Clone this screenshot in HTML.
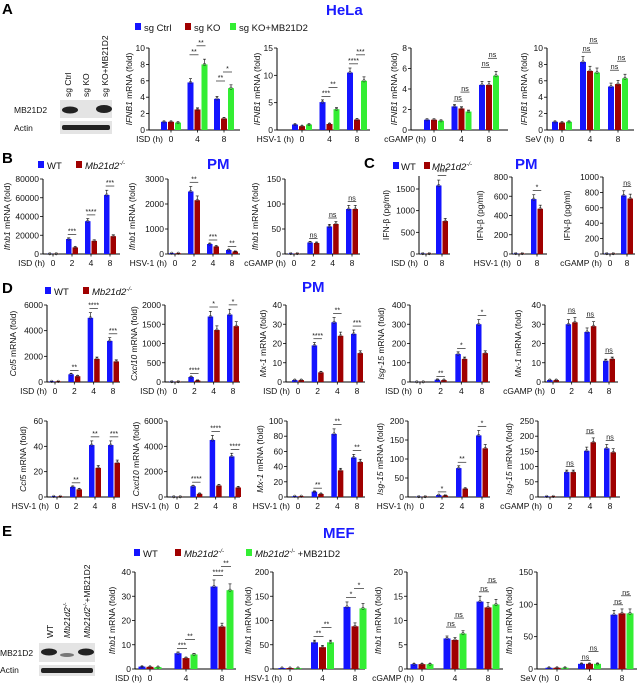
<!DOCTYPE html>
<html><head><meta charset="utf-8">
<style>
html,body{margin:0;padding:0;background:#fff;}
svg{display:block;font-family:"Liberation Sans",Arial,sans-serif;}
.t{font-size:8.5px;fill:#111;}
.yl{font-size:8.5px;fill:#111;}
.sig{font-size:7px;fill:#111;}
.pl{font-size:15px;font-weight:bold;fill:#000;}
.ti{font-size:15px;font-weight:bold;fill:#1a1aff;}
.lg{font-size:9.5px;fill:#111;}
</style></head><body>
<svg id="fig" width="640" height="685" viewBox="0 0 640 685">
<g>
<text class="pl" x="2" y="14">A</text>
<text class="pl" x="2" y="163">B</text>
<text class="pl" x="364" y="168">C</text>
<text class="pl" x="2" y="293">D</text>
<text class="pl" x="2" y="536">E</text>
<text class="ti" x="326" y="15">HeLa</text>
<text class="ti" x="207" y="169">PM</text>
<text class="ti" x="515" y="169">PM</text>
<text class="ti" x="302" y="292">PM</text>
<text class="ti" x="323" y="538">MEF</text>
</g>
<g>
<rect x="135" y="23" width="6" height="7" fill="#1414ff"/><text class="lg" x="144" y="31">sg Ctrl</text>
<rect x="185" y="23" width="6" height="7" fill="#a00000"/><text class="lg" x="194" y="31">sg KO</text>
<rect x="230" y="23" width="6" height="7" fill="#33ee33"/><text class="lg" x="239" y="31">sg KO+MB21D2</text>
</g>
<g>
<rect x="38" y="161" width="6" height="7" fill="#1414ff"/><text class="lg" x="47" y="169">WT</text>
<rect x="76" y="161" width="6" height="7" fill="#a00000"/><text class="lg" x="85" y="169" font-style="italic">Mb21d2<tspan dy="-4" font-size="6">-/-</tspan></text>
</g>
<g>
<rect x="393" y="162" width="6" height="7" fill="#1414ff"/><text class="lg" x="401" y="170">WT</text>
<rect x="424" y="162" width="6" height="7" fill="#a00000"/><text class="lg" x="432" y="170" font-style="italic">Mb21d2<tspan dy="-4" font-size="6">-/-</tspan></text>
</g>
<g>
<rect x="45" y="287" width="6" height="7" fill="#1414ff"/><text class="lg" x="54" y="295">WT</text>
<rect x="83" y="287" width="6" height="7" fill="#a00000"/><text class="lg" x="92" y="295" font-style="italic">Mb21d2<tspan dy="-4" font-size="6">-/-</tspan></text>
</g>
<g>
<rect x="134" y="549" width="6" height="7" fill="#1414ff"/><text class="lg" x="143" y="557">WT</text>
<rect x="175" y="549" width="6" height="7" fill="#a00000"/><text class="lg" x="184" y="557" font-style="italic">Mb21d2<tspan dy="-4" font-size="6">-/-</tspan></text>
<rect x="246" y="549" width="6" height="7" fill="#33ee33"/><text class="lg" x="255" y="557"><tspan font-style="italic">Mb21d2</tspan><tspan dy="-4" font-size="6">-/-</tspan><tspan dy="4"> +MB21D2</tspan></text>
</g>
<g>
<text class="t" transform="translate(71,97) rotate(-90)">sg Ctrl</text>
<text class="t" transform="translate(89,97) rotate(-90)">sg KO</text>
<text class="t" transform="translate(108,97) rotate(-90)">sg KO+MB21D2</text>
<text class="t" x="14" y="113">MB21D2</text>
<text class="t" x="14" y="131">Actin</text>
<rect x="60" y="100" width="52" height="18" fill="#e4e4e4"/>
<ellipse cx="70" cy="110" rx="8" ry="3.5" fill="#222"/>
<ellipse cx="104" cy="109" rx="8" ry="4" fill="#222"/>
<rect x="60" y="121" width="52" height="13" fill="#e4e4e4"/>
<rect x="62" y="125" width="48" height="5" rx="2" fill="#222"/>
</g>
<g>
<text class="t" transform="translate(53,638) rotate(-90)">WT</text>
<text class="t" transform="translate(70,638) rotate(-90)" font-style="italic">Mb21d2<tspan font-size="5" dy="-3">-/-</tspan></text>
<text class="t" transform="translate(90,638) rotate(-90)"><tspan font-style="italic">Mb21d2</tspan><tspan font-size="5" dy="-3">-/-</tspan><tspan dy="3">+MB21D2</tspan></text>
<text class="t" x="0" y="656">MB21D2</text>
<text class="t" x="0" y="673">Actin</text>
<rect x="39" y="643" width="56" height="19" fill="#e4e4e4"/>
<ellipse cx="49" cy="652" rx="8" ry="3.5" fill="#222"/>
<ellipse cx="67" cy="655" rx="7" ry="2" fill="#777"/>
<ellipse cx="86" cy="652" rx="8" ry="3.5" fill="#222"/>
<rect x="39" y="665" width="56" height="11" fill="#e4e4e4"/>
<rect x="41" y="668" width="52" height="5" rx="2" fill="#222"/>
</g>
<g id="charts"></g>
</svg>
<script>
// ---- data ----
const catsA = ["0","4","8"];
const catsB = ["0","2","4","8"];
const catsC = ["0","8"];
const a1Ctrl=[1,5.8,3.8], a1KO=[1,2.5,1.4], a1Res=[0.9,8,5.1];
const a2Ctrl=[1,5.1,10.5], a2KO=[0.7,1.1,1.9], a2Res=[1,3.8,9];
const a3Ctrl=[1,2.3,4.4], a3KO=[1,2.1,4.4], a3Res=[0.9,1.8,5.3];
const a4Ctrl=[1,8.3,5.3], a4KO=[0.9,7.2,5.6], a4Res=[1,7,6.3];
const b1WT=[300,16000,35000,63000], b1KO=[300,7000,14000,19000];
const b2WT=[30,2500,400,160], b2KO=[30,2150,300,100];
const b3WT=[1,23,55,90], b3KO=[1,22,60,90];
const c1WT=[10,1580], c1KO=[10,760];
const c2WT=[5,570], c2KO=[5,470];
const c3WT=[5,760], c3KO=[5,720];
const d1WT=[50,600,5000,3200], d1KO=[50,450,1800,1600];
const d2WT=[10,130,1700,1750], d2KO=[10,40,1350,1450];
const d3WT=[1,19,31,25], d3KO=[1,5,24,15];
const d4WT=[1,12,145,300], d4KO=[1,10,120,150];
const d5WT=[1,30,26,11], d5KO=[1,31,29,12];
const d6WT=[0.5,8,41,41], d6KO=[0.5,6,23,27];
const d7WT=[20,850,4500,3200], d7KO=[20,250,900,750];
const d8WT=[1,7,83,52], d8KO=[1,4,35,46];
const d9WT=[1,5,76,162], d9KO=[1,4,22,128];
const d10WT=[2,82,152,160], d10KO=[2,82,180,147];
const e1WT=[1,6.5,34], e1KO=[0.9,4.5,17.5], e1Res=[0.8,6,32.5];
const e2WT=[2,55,128], e2KO=[2,45,88], e2Res=[2,55,125];
const e3WT=[1,6.3,13.9], e3KO=[1,6,12.7], e3Res=[1,7.3,13.3];
const e4WT=[2,8,84], e4KO=[2,8,86], e4Res=[2,8,86];
// significance labels
const sigA1=["","**","**"], sigA1b=["","**","*"];
const sigA2=["","***","****"], sigA2b=["","**","***"];
const sigA3=["","ns","ns"], sigA3b=["","ns","ns"];
const sigA4=["","ns","ns"], sigA4b=["","ns","ns"];
const sigB1=["","***","****","***"], sigB2=["","**","***","**"], sigB3=["","ns","ns","ns"];
const sigC1=["","****"], sigC2=["","*"], sigC3=["","ns"];
const sigD1=["","**","****","***"], sigD2=["","****","*","*"], sigD3=["","****","**","***"], sigD4=["","**","*","*"], sigD5=["","ns","ns","ns"];
const sigD6=["","**","**","***"], sigD7=["","****","****","****"], sigD8=["","**","**","**"], sigD9=["","*","**","*"], sigD10=["","ns","ns","ns"];
const sigE1=["","***","****"], sigE1b=["","**","**"];
const sigE2=["","**","*"], sigE2b=["","**","*"];
const sigE3=["","ns","ns"], sigE3b=["","ns","ns"];
const sigE4=["","ns","ns"], sigE4b=["","ns","ns"];

const COL=["#1414ff","#a00000","#33ee33"];
const NS="http://www.w3.org/2000/svg";
const root=document.getElementById("charts");
function mk(tag,attrs,parent){const e=document.createElementNS(NS,tag);for(const k in attrs)e.setAttribute(k,attrs[k]);(parent||root).appendChild(e);return e;}

function panel(c){
  const g=mk("g",{});
  
  
  const max=c.max, yb=c.yb, yt=c.yt;
  const ys=v=>yb-v/max*(yb-yt);
  const axTop=c.axisMax?ys(c.axisMax):yt;
  mk("line",{x1:c.x0,y1:axTop,x2:c.x0,y2:yb,stroke:"#000","stroke-width":1},g);
  mk("line",{x1:c.x0,y1:yb,x2:c.x1,y2:yb,stroke:"#000","stroke-width":1},g);
  for(let v=0;v<=max+1e-9;v+=c.step){
    const y=ys(v);
    mk("line",{x1:c.x0-3,y1:y,x2:c.x0,y2:y,stroke:"#000","stroke-width":0.8},g);
    const t=mk("text",{x:c.x0-4,y:y+3,"text-anchor":"end",class:"t"},g);t.textContent=String(v);
  }
  const n=c.cats.length, ns=c.series.length, bw=c.bw||6.5;
  const sp=(c.cN-c.c0)/(n-1);
  const ax=mk("g",{},g);
  
  
  const st=mk("text",{x:c.c0-8,y:c.yb+12,"text-anchor":"end",class:"t"},ax);st.textContent=c.stim+" (h)";
  c.cats.forEach((cat,i)=>{
    const cx=c.c0+i*sp;
    const t=mk("text",{x:cx,y:c.yb+12,"text-anchor":"middle",class:"t"},ax);t.textContent=cat;
    mk("line",{x1:cx,y1:yb,x2:cx,y2:yb+2.5,stroke:"#000","stroke-width":0.8},ax);
    let top=0;
    c.series.forEach((s,j)=>{
      const bx=cx-ns*bw/2+j*bw;
      const v=s[i], y=ys(v);
      const r=mk("rect",{x:bx+0.5,y:y,width:bw-1,height:Math.max(0,yb-y),fill:COL[j]},g);
      
      
      const e=ys(v*1.08);
      mk("line",{x1:bx+bw/2,y1:e,x2:bx+bw/2,y2:y,stroke:"#000","stroke-width":0.6},g);
      mk("line",{x1:bx+bw/2-1.5,y1:e,x2:bx+bw/2+1.5,y2:e,stroke:"#000","stroke-width":0.6},g);
      mk("circle",{cx:bx+bw/2,cy:y,r:1.3,fill:"none",stroke:"#222","stroke-width":0.5},g);
      top=Math.max(top,v*1.1);
    });
    const ly=ys(top)-3;
    if(c.sig && c.sig[i]){
      const xa=cx-ns*bw/2+bw/2, xb=xa+bw;
      mk("line",{x1:xa-1,y1:ly,x2:xb+1,y2:ly,stroke:"#000","stroke-width":0.6},g);
      const t=mk("text",{x:(xa+xb)/2,y:ly-1,"text-anchor":"middle",class:"sig"},g);t.textContent=c.sig[i];
    }
    if(c.sig2 && c.sig2[i]){
      const xa=cx-ns*bw/2+bw*1.5, xb=xa+bw, y2=ly-9;
      mk("line",{x1:xa-1,y1:y2,x2:xb+1,y2:y2,stroke:"#000","stroke-width":0.6},g);
      const t=mk("text",{x:(xa+xb)/2,y:y2-1,"text-anchor":"middle",class:"sig"},g);t.textContent=c.sig2[i];
    }
  });
  const yc=(axTop+yb)/2, lx=c.x0-(c.ylOff||27);
  const yl=mk("text",{transform:`translate(${lx},${yc}) rotate(-90)`,"text-anchor":"middle",class:"yl"},g);
  
  
  const it=mk("tspan",{"font-style":"italic"},yl);it.textContent=c.ylab;
  const rest=mk("tspan",{},yl);rest.textContent=c.yrest||" mRNA (fold)";
}

const A={yb:130,yt:48,bw:7};
panel({name:"chart-a-isd",x0:149,x1:240,c0:171,cN:224,...A,max:10,step:2,cats:catsA,series:[a1Ctrl,a1KO,a1Res],stim:"ISD",ylab:"IFNB1",yrest:"  mRNA (fold)",sig:sigA1,sig2:sigA1b,ylOff:17});
panel({name:"chart-a-hsv",x0:277,x1:370,c0:302,cN:357,...A,max:15,step:5,cats:catsA,series:[a2Ctrl,a2KO,a2Res],stim:"HSV-1",ylab:"IFNB1",yrest:"  mRNA (fold)",sig:sigA2,sig2:sigA2b,ylOff:17});
panel({name:"chart-a-cgamp",x0:411,x1:508,c0:434,cN:489,...A,max:8,step:2,cats:catsA,series:[a3Ctrl,a3KO,a3Res],stim:"cGAMP",ylab:"IFNB1",yrest:"  mRNA (fold)",sig:sigA3,sig2:sigA3b,ylOff:14});
panel({name:"chart-a-sev",x0:547,x1:634,c0:562,cN:618,...A,max:10,step:2,cats:catsA,series:[a4Ctrl,a4KO,a4Res],stim:"SeV",ylab:"IFNB1",yrest:"  mRNA (fold)",sig:sigA4,sig2:sigA4b,ylOff:20});

const B={yb:254,yt:179};
panel({name:"chart-b-isd",x0:43,x1:120,c0:53,cN:110,...B,max:80000,step:20000,cats:catsB,series:[b1WT,b1KO],stim:"ISD",ylab:"Ifnb1",sig:sigB1,ylOff:33});
panel({name:"chart-b-hsv",x0:168,x1:240,c0:175,cN:232,...B,max:3000,step:1000,cats:catsB,series:[b2WT,b2KO],stim:"HSV-1",ylab:"Ifnb1",sig:sigB2,ylOff:33});
panel({name:"chart-b-cgamp",x0:285,x1:360,c0:294,cN:352,...B,max:150,step:50,cats:catsB,series:[b3WT,b3KO],stim:"cGAMP",ylab:"Ifnb1",sig:sigB3,ylOff:27});
panel({name:"chart-c-isd",x0:419,x1:450,c0:426,cN:442,yb:254,yt:189,max:1500,step:500,axisMax:1800,cats:catsC,series:[c1WT,c1KO],stim:"ISD",ylab:"",yrest:"IFN-β (pg/ml)",sig:sigC1,ylOff:30});
panel({name:"chart-c-hsv",x0:512,x1:547,c0:519,cN:537,...B,yt:177,max:800,step:200,cats:catsC,series:[c2WT,c2KO],stim:"HSV-1",ylab:"",yrest:"IFN-β (pg/ml)",sig:sigC2,ylOff:29});
panel({name:"chart-c-cgamp",x0:603,x1:635,c0:610,cN:627,...B,yt:177,max:1000,step:200,cats:catsC,series:[c3WT,c3KO],stim:"cGAMP",ylab:"",yrest:"IFN-β (pg/ml)",sig:sigC3,ylOff:33});

const D1={yb:382,yt:305};
panel({name:"chart-d-ccl5-isd",x0:47,x1:120,c0:55,cN:113,...D1,max:6000,step:2000,cats:catsB,series:[d1WT,d1KO],stim:"ISD",ylab:"Ccl5",sig:sigD1,ylOff:31});
panel({name:"chart-d-cxcl10-isd",x0:165,x1:240,c0:175,cN:233,...D1,max:2000,step:500,cats:catsB,series:[d2WT,d2KO],stim:"ISD",ylab:"Cxcl10",sig:sigD2,ylOff:28});
panel({name:"chart-d-mx1-isd",x0:286,x1:365,c0:298,cN:357,...D1,max:40,step:10,cats:catsB,series:[d3WT,d3KO],stim:"ISD",ylab:"Mx-1",sig:sigD3,ylOff:20});
panel({name:"chart-d-isg15-isd",x0:410,x1:490,c0:420,cN:482,...D1,max:400,step:100,cats:catsB,series:[d4WT,d4KO],stim:"ISD",ylab:"Isg-15",sig:sigD4,ylOff:26});
panel({name:"chart-d-mx1-cgamp",x0:545,x1:618,c0:553,cN:609,...D1,max:40,step:10,cats:catsB,series:[d5WT,d5KO],stim:"cGAMP",ylab:"Mx-1",sig:sigD5,ylOff:24});

const D2={yb:497,yt:421};
panel({name:"chart-d-ccl5-hsv",x0:47,x1:120,c0:57,cN:114,...D2,max:60,step:20,cats:catsB,series:[d6WT,d6KO],stim:"HSV-1",ylab:"Ccl5",sig:sigD6,ylOff:21});
panel({name:"chart-d-cxcl10-hsv",x0:167,x1:240,c0:177,cN:235,...D2,max:6000,step:2000,cats:catsB,series:[d7WT,d7KO],stim:"HSV-1",ylab:"Cxcl10",sig:sigD7,ylOff:28});
panel({name:"chart-d-mx1-hsv",x0:287,x1:365,c0:298,cN:357,...D2,max:100,step:20,cats:catsB,series:[d8WT,d8KO],stim:"HSV-1",ylab:"Mx-1",sig:sigD8,ylOff:24});
panel({name:"chart-d-isg15-hsv",x0:408,x1:490,c0:422,cN:482,...D2,max:200,step:50,cats:catsB,series:[d9WT,d9KO],stim:"HSV-1",ylab:"Isg-15",sig:sigD9,ylOff:25});
panel({name:"chart-d-isg15-cgamp",x0:538,x1:620,c0:550,cN:610,...D2,max:250,step:50,cats:catsB,series:[d10WT,d10KO],stim:"cGAMP",ylab:"Isg-15",sig:sigD10,ylOff:26});

const E={yb:669,yt:572,bw:8};
panel({name:"chart-e-isd",x0:135,x1:236,c0:150,cN:222,...E,max:40,step:10,cats:catsA,series:[e1WT,e1KO,e1Res],stim:"ISD",ylab:"Ifnb1",sig:sigE1,sig2:sigE1b,ylOff:20});
panel({name:"chart-e-hsv",x0:273,x1:365,c0:290,cN:355,...E,max:200,step:50,cats:catsA,series:[e2WT,e2KO,e2Res],stim:"HSV-1",ylab:"Ifnb1",sig:sigE2,sig2:sigE2b,ylOff:22});
panel({name:"chart-e-cgamp",x0:407,x1:503,c0:422,cN:488,...E,max:20,step:5,cats:catsA,series:[e3WT,e3KO,e3Res],stim:"cGAMP",ylab:"Ifnb1",sig:sigE3,sig2:sigE3b,ylOff:26});
panel({name:"chart-e-sev",x0:537,x1:637,c0:557,cN:622,...E,max:150,step:50,cats:catsA,series:[e4WT,e4KO,e4Res],stim:"SeV",ylab:"Ifnb1",sig:sigE4,sig2:sigE4b,ylOff:25});
</script>
</body></html>
